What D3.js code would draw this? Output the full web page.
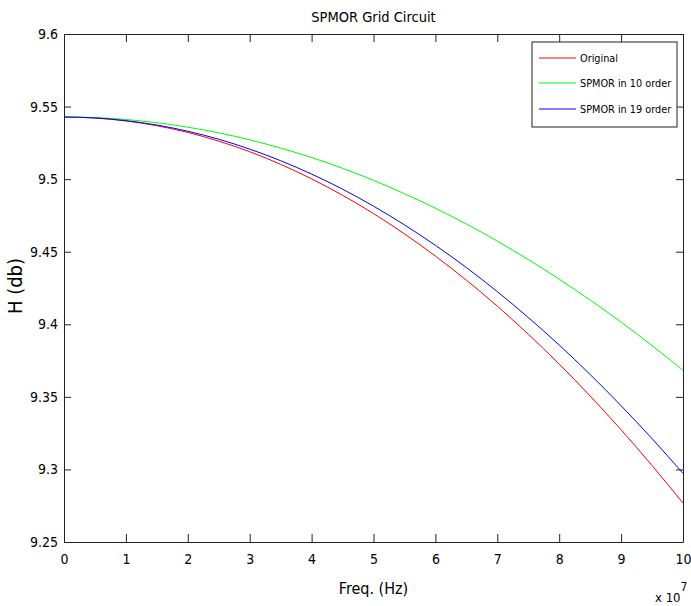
<!DOCTYPE html>
<html lang="en">
<head>
    <meta charset="UTF-8">
    <title>SPMOR Grid Circuit</title>
    <script src="https://d3js.org/d3.v7.min.js"></script>
    <style>
        body { margin: 0; background: #fff; }
        text { font-family: "DejaVu Sans Condensed", "Liberation Sans", sans-serif; font-stretch: condensed; fill: #000; }
        .tick-label { font-size: 14px; }
        .legend { font-size: 10.8px; }
    </style>
</head>
<body>
    <svg width="691" height="606"></svg>
    <script>
        // frequency in units of 1e7 Hz
        const freq = [0, 0.5, 1, 1.5, 2, 2.5, 3, 3.5, 4, 4.5, 5, 5.5, 6, 6.5, 7, 7.5, 8, 8.5, 9, 9.5, 10];
        const original = [9.5428, 9.5421, 9.5401, 9.5368, 9.5322, 9.5262, 9.5189, 9.5102, 9.5002, 9.4889, 9.4763,
            9.4623, 9.4470, 9.4304, 9.4125, 9.3932, 9.3726, 9.3506, 9.3273, 9.3027, 9.2768];
        const order10 = [9.5428, 9.5424, 9.5411, 9.5389, 9.5358, 9.5319, 9.5271, 9.5214, 9.5149, 9.5075, 9.4992,
            9.4900, 9.4800, 9.4691, 9.4573, 9.4446, 9.4311, 9.4167, 9.4015, 9.3853, 9.3683];
        const order19 = [9.5428, 9.5422, 9.5403, 9.5373, 9.5330, 9.5275, 9.5207, 9.5127, 9.5035, 9.4931, 9.4814,
            9.4685, 9.4544, 9.4391, 9.4225, 9.4047, 9.3857, 9.3654, 9.3439, 9.3212, 9.2973];
        const seriesNames = ["Original", "SPMOR in 10 order", "SPMOR in 19 order"];
        const seriesColors = ["#ff0000", "#00ff00", "#0000ff"];
        const xTicks = [0, 1, 2, 3, 4, 5, 6, 7, 8, 9, 10];
        const yTicks = [9.25, 9.3, 9.35, 9.4, 9.45, 9.5, 9.55, 9.6];

        const margin = {top: 34, right: 8, bottom: 64, left: 64};
        const width = 691 - margin.left - margin.right;
        const height = 606 - margin.top - margin.bottom;

        const svg = d3.select("svg");
        const g = svg.append("g")
            .attr("transform", `translate(${margin.left}, ${margin.top})`);

        const x = d3.scaleLinear().domain([0, 10]).range([0, width]);
        const y = d3.scaleLinear().domain([9.25, 9.6]).range([height, 0]);

        const series = [original, order10, order19].map((vals, i) => ({
            name: seriesNames[i],
            color: seriesColors[i],
            values: vals.map((v, j) => ({f: freq[j], v: v}))
        }));

        const line = d3.line()
            .curve(d3.curveMonotoneX)
            .x(d => x(d.f))
            .y(d => y(d.v));

        g.selectAll(".curve")
            .data(series)
            .enter().append("path")
            .attr("class", "curve")
            .attr("fill", "none")
            .attr("stroke", d => d.color)
            .attr("stroke-width", 1)
            .attr("d", d => line(d.values));

        const fmtY = d => String(+d.toFixed(2));

        // bottom + top axes (ticks pointing inward)
        const xb = g.append("g").attr("transform", `translate(0, ${height})`)
            .call(d3.axisBottom(x).tickValues(xTicks).tickSizeInner(-8).tickSizeOuter(0).tickPadding(12).tickFormat(d3.format("d")));
        const xt = g.append("g")
            .call(d3.axisTop(x).tickValues(xTicks).tickSizeInner(-8).tickSizeOuter(0).tickFormat(""));
        const yl = g.append("g")
            .call(d3.axisLeft(y).tickValues(yTicks).tickSizeInner(-7).tickSizeOuter(0).tickPadding(6).tickFormat(fmtY));
        const yr = g.append("g").attr("transform", `translate(${width}, 0)`)
            .call(d3.axisRight(y).tickValues(yTicks).tickSizeInner(-7).tickSizeOuter(0).tickFormat(""));

        [xb, xt, yl, yr].forEach(a => {
            a.select(".domain").attr("stroke", "#222");
            a.selectAll(".tick line").attr("stroke", "#222");
            a.selectAll("text").attr("class", "tick-label").attr("font-family", null).attr("font-size", null);
        });

        // legend
        const leg = g.append("g").attr("transform", `translate(${532 - margin.left}, ${42 - margin.top})`);
        leg.append("rect")
            .attr("width", 145).attr("height", 85)
            .attr("fill", "#fff").attr("stroke", "#222");
        const rows = leg.selectAll(".row").data(series).enter().append("g")
            .attr("transform", (d, i) => `translate(0, ${[16, 41, 67][i]})`);
        rows.append("line")
            .attr("x1", 7).attr("x2", 44)
            .attr("stroke", d => d.color);
        rows.append("text")
            .attr("class", "legend")
            .attr("x", 48).attr("dy", "0.35em")
            .text(d => d.name);

        // title and labels
        svg.append("text")
            .attr("x", margin.left + width / 2).attr("y", 22)
            .attr("text-anchor", "middle").attr("font-size", 14.5)
            .text("SPMOR Grid Circuit");
        svg.append("text")
            .attr("x", margin.left + width / 2).attr("y", 594)
            .attr("text-anchor", "middle").attr("font-size", 16)
            .text("Freq. (Hz)");
        svg.append("text")
            .attr("transform", `translate(22, ${margin.top + height / 2 - 2}) rotate(-90)`)
            .attr("text-anchor", "middle").attr("font-size", 20)
            .text("H (db)");
        const mult = svg.append("text")
            .attr("x", 655).attr("y", 602).attr("font-size", 13);
        mult.append("tspan").text("x 10");
        mult.append("tspan").attr("dy", -11).attr("font-size", 12).text("7");
    </script>
</body>
</html>
